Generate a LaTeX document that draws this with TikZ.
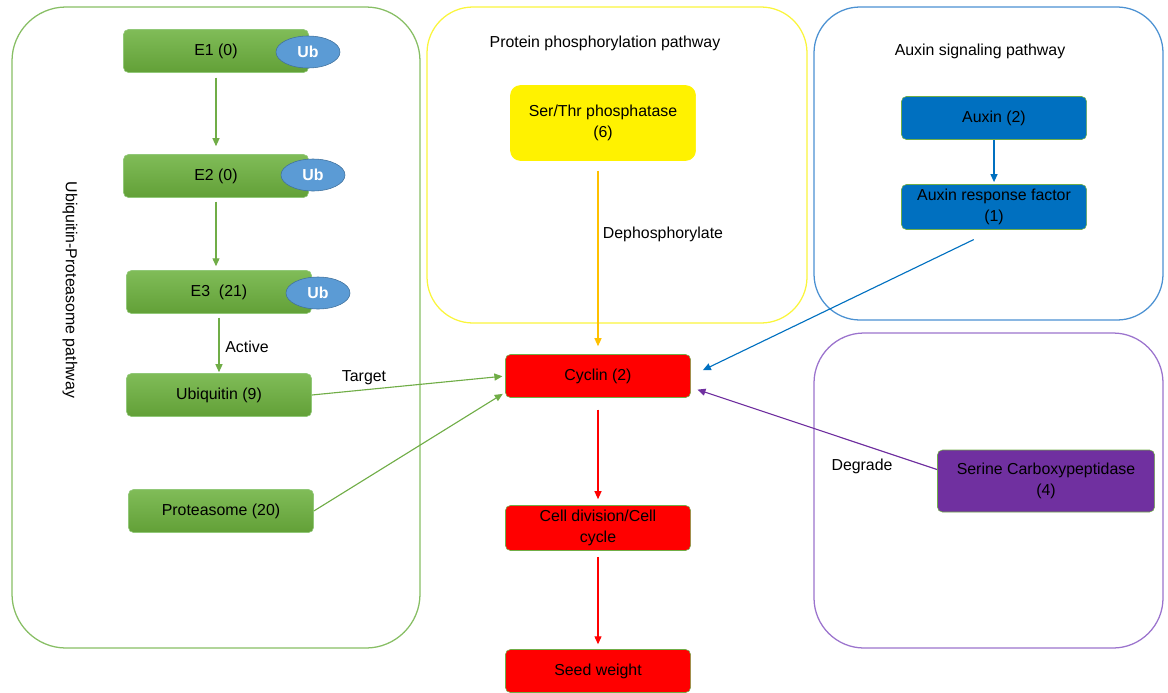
\documentclass[tikz,border=0pt]{standalone}
\usepackage{fontspec}
\setmainfont{Liberation Sans}
\usepackage{tikz}
\usetikzlibrary{arrows.meta,shapes.geometric}

\definecolor{upsline}{RGB}{135,190,100}
\definecolor{phosline}{RGB}{250,245,60}
\definecolor{auxline}{RGB}{75,145,210}
\definecolor{degline}{RGB}{155,115,205}
\definecolor{gtop}{RGB}{128,188,88}
\definecolor{gbot}{RGB}{98,160,55}
\definecolor{gedge}{RGB}{145,200,120}
\definecolor{ubfill}{RGB}{91,155,213}
\definecolor{ubedge}{RGB}{65,113,156}
\definecolor{auxfill}{RGB}{0,112,192}
\definecolor{degfill}{RGB}{112,48,160}
\definecolor{gline}{RGB}{112,173,71}
\definecolor{oline}{RGB}{255,192,0}

\begin{document}
\begin{tikzpicture}[x=0.025cm, y=-0.025cm,
  every node/.style={font=\fontsize{11.3}{14.8}\selectfont, align=center},
  gbox/.style={rectangle, rounded corners=3.5pt, draw=gedge, top color=gtop, bottom color=gbot, minimum width=4.625cm, minimum height=1.075cm},
  ybox/.style={rectangle, rounded corners=7pt, draw=yellow, fill=yellow, minimum width=4.625cm, minimum height=1.875cm},
  rbox/.style={rectangle, rounded corners=3.5pt, draw=gline, fill=red, minimum width=4.625cm, minimum height=1.075cm},
  bbox/.style={rectangle, rounded corners=3.5pt, draw=gline, fill=auxfill, minimum width=4.625cm, minimum height=1.075cm},
  pbox/.style={rectangle, rounded corners=3.5pt, draw=gline, fill=degfill, minimum width=5.425cm, minimum height=1.55cm},
  ubtag/.style={ellipse, draw=ubedge, fill=ubfill, text=white, font=\fontsize{11.3}{13}\selectfont\bfseries, minimum width=1.6cm, minimum height=0.8cm, inner sep=0pt},
  lbl/.style={inner sep=0pt},
  link/.style={line width=0.8pt, -{Triangle[length=5.7pt,width=5pt]}}
]
\useasboundingbox (0,0) rectangle (1168,692);

% riquadri
\draw[upsline, line width=0.9pt, rounded corners=1.35cm] (12,7) rectangle (420,648);
\draw[phosline, line width=0.9pt, rounded corners=1.15cm] (427,7) rectangle (807,323);
\draw[auxline, line width=0.9pt, rounded corners=1.15cm] (814,7) rectangle (1163,320);
\draw[degline, line width=0.9pt, rounded corners=1.25cm] (814,333) rectangle (1163,648);

% titoli
\node[lbl] (phostitle) at (605,43) {Protein phosphorylation pathway};
\node[lbl] (auxtitle) at (980,51) {Auxin signaling pathway};
\node[lbl, rotate=-90] (upstitle) at (70,290) {Ubiquitin-Proteasome pathway};

% nodi
\node[gbox] (e1) at (216,51) {E1 (0)};
\node[ubtag] (ub1) at (308,52) {Ub};
\node[gbox] (e2) at (216,176) {E2 (0)};
\node[ubtag] (ub2) at (313,175) {Ub};
\node[gbox] (e3) at (219,292) {E3\ \ (21)};
\node[ubtag] (ub3) at (318,293) {Ub};
\node[gbox] (ubi) at (219,395) {Ubiquitin (9)};
\node[gbox] (prot) at (221,511) {Proteasome (20)};

\node[ybox] (ser) at (603,123) {Ser/Thr phosphatase\\(6)};
\node[rbox] (cyclin) at (598,376) {Cyclin (2)};
\node[rbox] (cell) at (598,528) {Cell division/Cell\\cycle};
\node[rbox] (seed) at (598,671) {Seed weight};

\node[bbox] (auxin) at (994,118) {Auxin (2)};
\node[bbox] (arf) at (994,207) {Auxin response factor\\(1)};
\node[pbox] (scp) at (1046,481) {Serine Carboxypeptidase\\(4)};

% etichette
\node[lbl] (active) at (247,347) {Active};
\node[lbl] (target) at (364,378) {Target};
\node[lbl] (dephos) at (663,234) {Dephosphorylate};
\node[lbl] (degrade) at (862,466) {Degrade};

% Archi
\draw[link, gline, shorten <=3.5pt, shorten >=5.7pt] (e1) -- (e2);
\draw[link, gline, shorten <=2.8pt, shorten >=2.8pt] (e2.south) -- (e2.south |- e3.north);
\draw[link, gline, shorten <=2.8pt, shorten >=0.7pt] (e3) -- (ubi);
\draw[link, gline, shorten >=2pt] (ubi.east) -- (cyclin.west);
\draw[link, gline, shorten >=2pt] (prot.east) -- (cyclin.190);
\draw[link, oline, shorten <=7pt, shorten >=5.7pt] (ser.south -| cyclin.north) -- (cyclin.north);
\draw[link, red, shorten <=8.5pt, shorten >=4.3pt] (cyclin) -- (cell);
\draw[link, red, shorten <=4.3pt, shorten >=3.5pt] (cell) -- (seed);
\draw[link, auxfill, shorten >=1.5pt] (auxin) -- (arf);
\draw[link, auxfill, shorten <=16pt, shorten >=9.5pt] (arf.south) -- (cyclin.east);
\draw[link, degfill, shorten >=5pt] (scp.174) -- (cyclin.-7);

\end{tikzpicture}
\end{document}
